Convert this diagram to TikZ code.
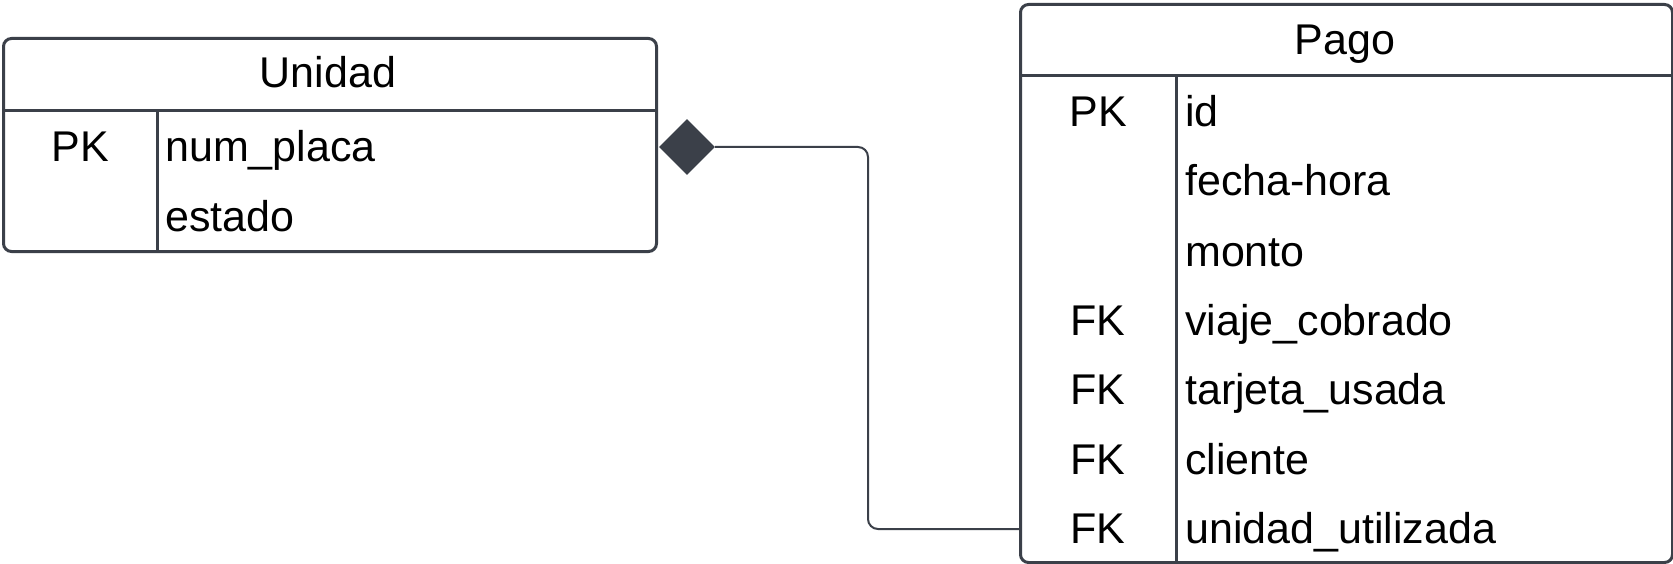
\documentclass[tikz,border=0pt]{standalone}
\usepackage{fontspec}
\setmainfont{Liberation Sans}
\usetikzlibrary{shapes.geometric}
\definecolor{ink}{RGB}{59,64,73}

\begin{document}
\begin{tikzpicture}[x=1pt,y=-1pt,
  table box/.style={draw=ink,line width=3pt,rounded corners=8pt,inner sep=0pt,anchor=north west},
  rule/.style={draw=ink,line width=3pt},
  key/.style={anchor=base,inner sep=0pt,font=\fontsize{43}{50}\selectfont},
  field/.style={anchor=base west,inner sep=0pt,font=\fontsize{43}{50}\selectfont},
  conn/.style={draw=ink,line width=2pt,rounded corners=10pt}]
  \useasboundingbox (0,0) rectangle (1673,564);
  % Unidad
  \node[table box,minimum width=653pt,minimum height=213pt] (unidad) at (2,37) {};
  \node[key] (unidadT) at (328,88) {Unidad};
  \draw[rule] (unidad.west |- 0,111) -- (unidad.east |- 0,111);
  \draw[rule] (157,111) -- (157,250);
  \node[key] (uk1) at (80,162) {PK};
  \node[field] (uf1) at (165,162) {num\_placa};
  \node[field] (uf2) at (165,232) {estado};
  % Pago
  \node[table box,minimum width=652pt,minimum height=558pt] (pago) at (1019,3) {};
  \node[key] (pagoT) at (1345,55) {Pago};
  \draw[rule] (pago.west |- 0,76) -- (pago.east |- 0,76);
  \draw[rule] (1176,76) -- (1176,561);
  \node[key] (pk1) at (1098,127) {PK};
  \node[key] (pk4) at (1098,335) {FK};
  \node[key] (pk5) at (1098,404) {FK};
  \node[key] (pk6) at (1098,474) {FK};
  \node[key] (pk7) at (1098,543) {FK};
  \node[field] (pf1) at (1185,127) {id};
  \node[field] (pf2) at (1185,196) {fecha-hora};
  \node[field] (pf3) at (1185,266) {monto};
  \node[field] (pf4) at (1185,335) {viaje\_cobrado};
  \node[field] (pf5) at (1185,404) {tarjeta\_usada};
  \node[field] (pf6) at (1185,474) {cliente};
  \node[field] (pf7) at (1185,543) {unidad\_utilizada};
  % composition
  \node[diamond,fill=ink,inner sep=0pt,minimum width=56pt,minimum height=56pt] (comp) at (687,147) {};
  \coordinate (bend) at (868,529);
  \draw[conn] (comp.east) -| (bend) -- (pago.west |- bend);
\end{tikzpicture}
\end{document}
